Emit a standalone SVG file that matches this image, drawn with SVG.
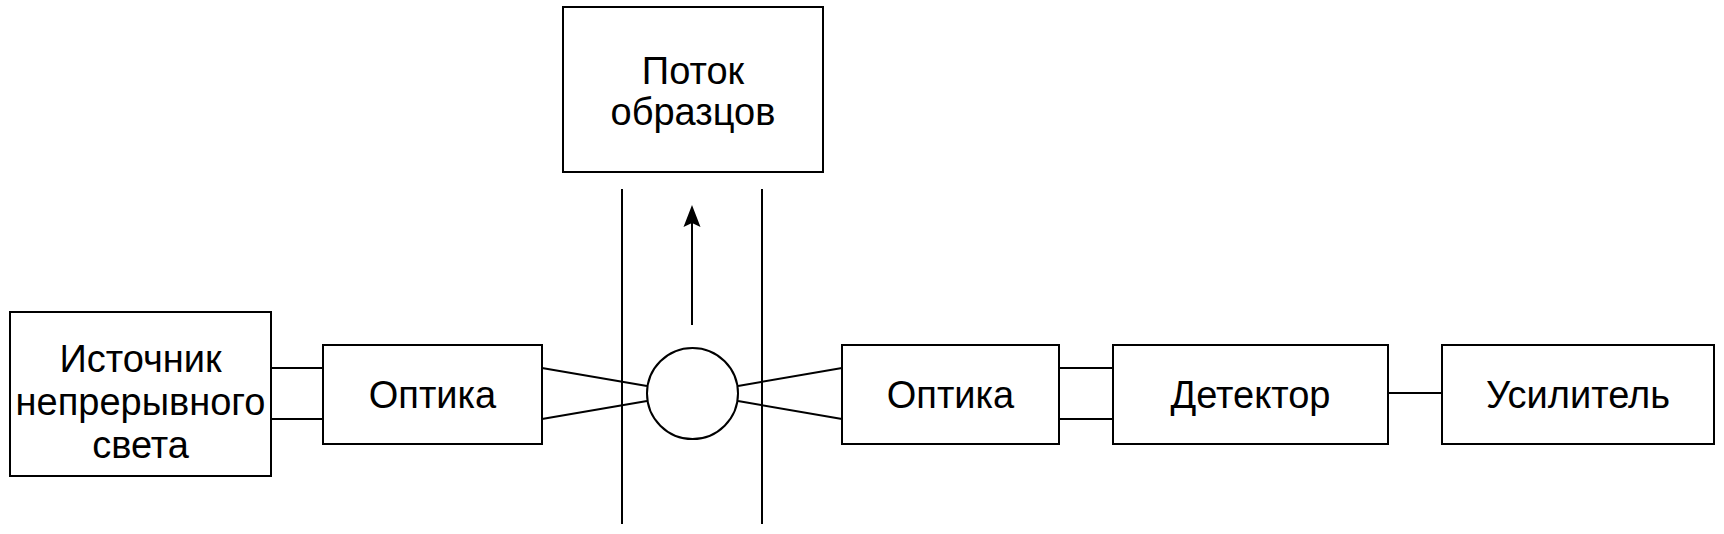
<svg xmlns="http://www.w3.org/2000/svg" width="1724" height="534" viewBox="0 0 1724 534">
<style>
.box{fill:#fff;stroke:#000;stroke-width:2}
.ln{fill:none;stroke:#000;stroke-width:2}
.t{font-family:"Liberation Sans",Arial,sans-serif;font-size:38px;fill:#000;text-anchor:middle}
</style>
<rect width="1724" height="534" fill="#fff"/>
<g id="connectors">
<line class="ln" x1="271" y1="368" x2="323" y2="368"/>
<line class="ln" x1="271" y1="419" x2="323" y2="419"/>
<line class="ln" x1="542" y1="368" x2="647" y2="386"/>
<line class="ln" x1="542" y1="419" x2="647" y2="401"/>
<line class="ln" x1="738" y1="386" x2="842" y2="368"/>
<line class="ln" x1="738" y1="401" x2="842" y2="419"/>
<line class="ln" x1="1059" y1="368" x2="1113" y2="368"/>
<line class="ln" x1="1059" y1="419" x2="1113" y2="419"/>
<line class="ln" x1="1388" y1="393" x2="1442" y2="393"/>
<line class="ln" x1="622" y1="189" x2="622" y2="524"/>
<line class="ln" x1="762" y1="189" x2="762" y2="524"/>
<line class="ln" x1="692" y1="325" x2="692" y2="210"/>
<path d="M683.5,227 L692,205 L700.5,227 L692,223 Z" fill="#000"/>
</g>
<g id="source">
<rect class="box" x="10" y="312" width="261" height="164"/>
<text class="t" x="140.5" y="372">Источник</text>
<text class="t" x="140.5" y="415">непрерывного</text>
<text class="t" x="140.5" y="458">света</text>
</g>
<g id="optics1">
<rect class="box" x="323" y="345" width="219" height="99"/>
<text class="t" x="432.5" y="408">Оптика</text>
</g>
<g id="flow">
<rect class="box" x="563" y="7" width="260" height="165"/>
<text class="t" x="693" y="84">Поток</text>
<text class="t" x="693" y="125">образцов</text>
</g>
<g id="sample">
<circle class="box" cx="692.5" cy="393.5" r="45.5"/>
</g>
<g id="optics2">
<rect class="box" x="842" y="345" width="217" height="99"/>
<text class="t" x="950.5" y="408">Оптика</text>
</g>
<g id="detector">
<rect class="box" x="1113" y="345" width="275" height="99"/>
<text class="t" x="1250.5" y="408">Детектор</text>
</g>
<g id="amplifier">
<rect class="box" x="1442" y="345" width="272" height="99"/>
<text class="t" x="1578" y="408">Усилитель</text>
</g>
</svg>
